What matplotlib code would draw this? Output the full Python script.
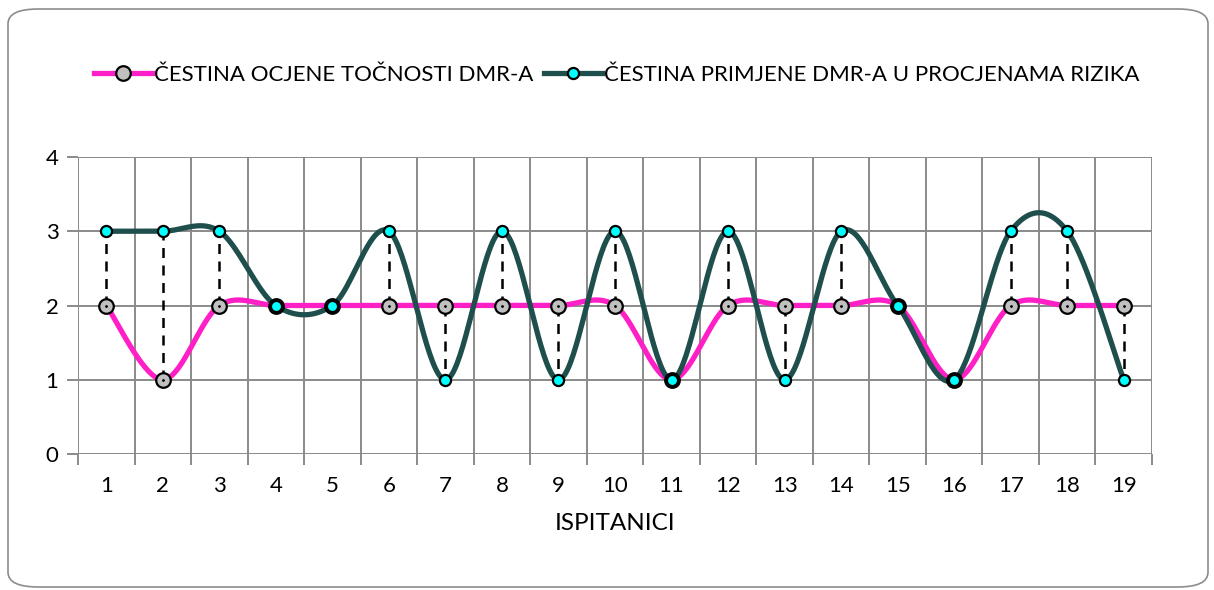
import numpy as np
import matplotlib
matplotlib.use("Agg")
import matplotlib.pyplot as plt
from matplotlib.patches import FancyBboxPatch
from matplotlib.lines import Line2D

categories = [str(i) for i in range(1, 20)]
tocnost = [2, 1, 2, 2, 2, 2, 2, 2, 2, 2, 1, 2, 2, 2, 2, 1, 2, 2, 2]
primjena = [3, 3, 3, 2, 2, 3, 1, 3, 1, 3, 1, 3, 1, 3, 2, 1, 3, 3, 1]
label1 = "ČESTINA OCJENE TOČNOSTI DMR-A"
label2 = "ČESTINA PRIMJENE DMR-A U PROCJENAMA RIZIKA"
xlabel = "ISPITANICI"
yticks = [0, 1, 2, 3, 4]

plt.rcParams['font.family'] = ['Lato', 'DejaVu Sans']


def smooth(xs, ys, n=40):
    xs = np.asarray(xs, float)
    ys = np.asarray(ys, float)
    P = np.column_stack([xs, ys])
    out = []
    m = len(P)
    for i in range(m - 1):
        p0 = P[max(i - 1, 0)]
        p1 = P[i]
        p2 = P[i + 1]
        p3 = P[min(i + 2, m - 1)]
        c1 = p1 + (p2 - p0) / 6.0
        c2 = p2 - (p3 - p1) / 6.0
        t = np.linspace(0, 1, n)[:, None]
        seg = ((1 - t) ** 3) * p1 + 3 * ((1 - t) ** 2) * t * c1 + 3 * (1 - t) * t ** 2 * c2 + t ** 3 * p2
        if i > 0:
            seg = seg[1:]
        out.append(seg)
    arr = np.vstack(out)
    return arr[:, 0], arr[:, 1]


fig = plt.figure(figsize=(12.14, 5.90), dpi=100)
border = FancyBboxPatch((8 / 1214, 3 / 590), 1200 / 1214, 578 / 590,
                        boxstyle="round,pad=0,rounding_size=0.025",
                        transform=fig.transFigure, facecolor='none',
                        edgecolor='#8c8c8c', linewidth=1.2, zorder=-5)
fig.patches.append(border)

ax = fig.add_axes([78 / 1214, 1 - 454 / 590, (1152 - 78) / 1214, (454 - 157) / 590])
ax.set_facecolor('none')

x = np.arange(1, len(categories) + 1)
ax.set_xlim(0.5, len(categories) + 0.5)
ax.set_ylim(0, 4)

grid_c = '#8a8a8a'
for b in np.arange(0.5, len(categories) + 1, 1.0):
    ax.axvline(b, color=grid_c, lw=1.4, zorder=1)
for yv in yticks:
    ax.axhline(yv, color=grid_c, lw=1.4, zorder=1)

# drop lines
for xi, a, b in zip(x, tocnost, primjena):
    if a != b:
        ax.plot([xi, xi], [a, b], color='black', lw=1.8, ls=(0, (4, 3)), zorder=2)

sx, sy = smooth(x, tocnost)
ax.plot(sx, sy, color='#FF1FC6', lw=3.8, zorder=3, solid_capstyle='round')
sx2, sy2 = smooth(x, primjena)
ax.plot(sx2, sy2, color='#1F4F4D', lw=3.8, zorder=4, solid_capstyle='round')

ax.plot(x, tocnost, ls='none', marker='o', ms=10.5, mfc='#C0C0C0', mec='black', mew=1.6, zorder=5)
ax.plot(x, tocnost, ls='none', marker='.', ms=2, color='black', zorder=6)
ax.plot(x, primjena, ls='none', marker='o', ms=8, mfc='#00FFFF', mec='black', mew=1.6, zorder=7)

for s in ax.spines.values():
    s.set_visible(False)

ax.set_xticks(np.arange(0.5, len(categories) + 1, 1.0))
ax.set_xticklabels([])
ax.set_xticks(x, minor=True)
ax.set_xticklabels(categories, minor=True, fontsize=16)
ax.tick_params(axis='x', which='major', length=8, width=1.4, color=grid_c)
ax.tick_params(axis='x', which='minor', length=0, pad=16)
ax.set_yticks(yticks)
ax.set_yticklabels([str(v) for v in yticks], fontsize=16)
ax.tick_params(axis='y', length=8, width=1.4, color=grid_c, pad=6)

ax.set_xlabel(xlabel, fontsize=17.5, labelpad=12)

h1 = Line2D([], [], color='#FF1FC6', lw=3.8, marker='o', ms=10.5, mfc='#C0C0C0', mec='black', mew=1.6)
h2 = Line2D([], [], color='#1F4F4D', lw=3.8, marker='o', ms=8, mfc='#00FFFF', mec='black', mew=1.6)
fig.legend([h1, h2], [label1, label2], loc='center', bbox_to_anchor=(617 / 1214, 1 - 75 / 590),
           ncol=2, frameon=False, fontsize=16, handlelength=2.6, handletextpad=0.1,
           columnspacing=0.5)

fig.savefig('out.png', dpi=100)
